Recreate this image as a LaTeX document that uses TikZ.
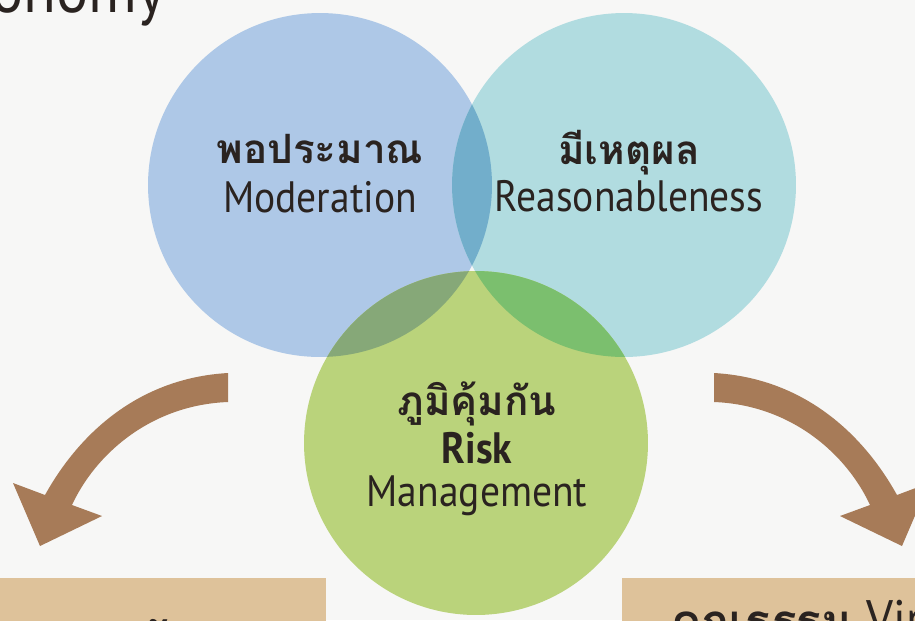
\documentclass[tikz,border=0pt]{standalone}
\usepackage{fontspec}
\setmainfont{PT Sans}[FakeStretch=0.9]
\newfontfamily\thaifont{Loma}[Script=Thai]
\usetikzlibrary{positioning}

\definecolor{bgpaper}{HTML}{F7F7F6}
\definecolor{modblue}{HTML}{AEC8E7}
\definecolor{reasteal}{HTML}{B1DCE0}
\definecolor{riskgreen}{HTML}{BAD37B}
\definecolor{blueteal}{HTML}{72AECB}
\definecolor{bluegreen}{HTML}{86A878}
\definecolor{tealgreen}{HTML}{7BBF6E}
\definecolor{arrowbrown}{HTML}{A77B58}
\definecolor{boxtan}{HTML}{DEC29A}
\definecolor{inkdark}{HTML}{2A2320}

\tikzset{
  thaiword/.style = {text=inkdark, inner sep=0pt, anchor=base, font=\thaifont\fontsize{23}{28}\selectfont\bfseries},
  engword/.style  = {text=inkdark, inner sep=0pt, anchor=base, font=\fontsize{25}{30}\selectfont},
  bendarrow/.style = {fill=arrowbrown},
  footbox/.style = {fill=boxtan}
}

\begin{document}
\begin{tikzpicture}[x=0.02cm, y=-0.02cm]

    % Frame
    \useasboundingbox (0,0) rectangle (915,620);
    \clip (0,0) rectangle (915,620);
    \fill[bgpaper] (0,0) rectangle (915,620);

    % Title (cut off)
    \node[engword, anchor=base east, font=\fontsize{38}{40}\selectfont] (title) at (166,12) {Economy};

    % Circle centres
    \coordinate (moder)  at (320,185);
    \coordinate (reason) at (624,185);
    \coordinate (risk)   at (476,443);

    % Circles
    \fill[modblue]   (moder)  circle (3.44cm);
    \fill[reasteal]  (reason) circle (3.44cm);
    \fill[riskgreen] (risk)   circle (3.44cm);

    % Overlaps
    \begin{scope}
      \clip (moder) circle (3.44cm);
      \fill[blueteal] (reason) circle (3.44cm);
      \fill[bluegreen] (risk) circle (3.44cm);
    \end{scope}
    \begin{scope}
      \clip (reason) circle (3.44cm);
      \fill[tealgreen] (risk) circle (3.44cm);
    \end{scope}

    % Labels
    \node[thaiword] (modth)  at (320,163) {พอประมาณ};
    \node[engword]  (moden)  at (320,212) {Moderation};
    \node[thaiword] (reath)  at (629,164) {มีเหตุผล};
    \node[engword]  (reaen)  at (629,211) {Reasonableness};
    \node[thaiword] (riskth) at (477,415) {ภูมิคุ้มกัน};
    \node[engword, font=\fontsize{25}{30}\selectfont\bfseries] (risken) at (477,463) {Risk};
    \node[engword]  (riskmg) at (477,506) {Management};

    % Curved arrows
    \fill[bendarrow] (228,373) .. controls (140,378) and (80,432) .. (45,495)
      -- (13,483) -- (40,546) -- (102,516) -- (72,505)
      .. controls (95,455) and (150,405) .. (228,402) -- cycle;
    \fill[bendarrow] (714,373) .. controls (802,378) and (862,432) .. (897,495)
      -- (929,483) -- (902,546) -- (840,516) -- (870,505)
      .. controls (847,455) and (792,405) .. (714,402) -- cycle;

    % Boxes at the bottom
    \fill[footbox] (0,578) rectangle (326,660);
    \fill[footbox] (622,578) rectangle (960,660);
    \node[engword, anchor=base west, font=\thaifont\fontsize{28}{34}\selectfont\bfseries] (know) at (22,660) {ความรู้ \normalfont\fontsize{28}{34}\selectfont Knowledge};
    \node[engword, anchor=base west, font=\thaifont\fontsize{26}{34}\selectfont\bfseries] (virtue) at (671,637) {คุณธรรม \normalfont\fontsize{30}{34}\selectfont Virtue};

\end{tikzpicture}
\end{document}
